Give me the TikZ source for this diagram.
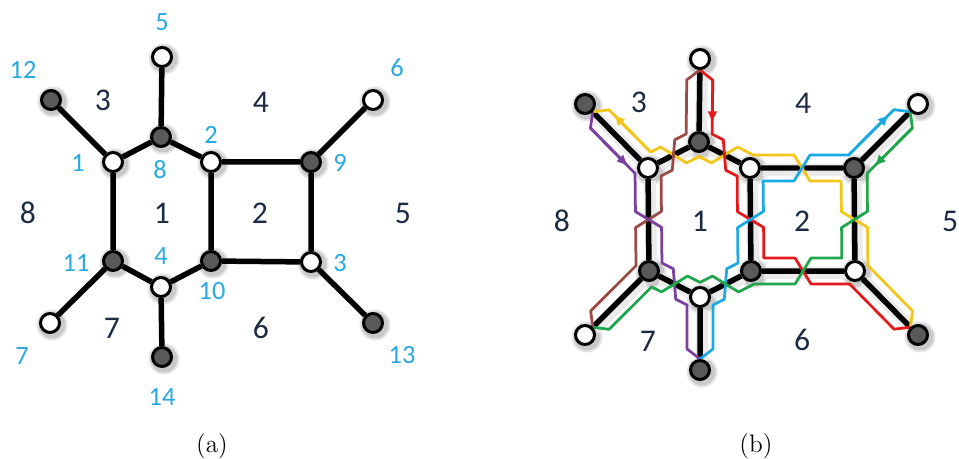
\documentclass[tikz,border=0pt]{standalone}
\usepackage{fontspec}
\newfontfamily\carl{Carlito}
\usetikzlibrary{calc,arrows.meta}
\pgfdeclarelayer{bg}
\pgfdeclarelayer{mid}
\pgfsetlayers{bg,mid,main}

\definecolor{navy}{HTML}{1C2B45}
\definecolor{lblue}{HTML}{27A9E1}
\definecolor{nodegray}{HTML}{595959}
\definecolor{cyel}{HTML}{F5C518}
\definecolor{cred}{HTML}{E3191C}
\definecolor{cbrn}{HTML}{9B4A45}
\definecolor{cpur}{HTML}{7B3FA0}
\definecolor{cblu}{HTML}{1BA9E6}
\definecolor{cgrn}{HTML}{20A64A}

\def\sdd{0.26cm}
\def\sdc{0.16cm}
\def\srl{0.42cm}
\def\srr{0.22cm}

% corner of a strand at vertex #3 between edges #2-#3 and #3-#4, side #5
\newcommand\mkcrn[5]{%
  \coordinate (#1p) at ($(#2)!\sdd!#5:(#3)$);
  \coordinate (#1q) at ($(#1p)+(#3)-(#2)$);
  \coordinate (#1r) at ($(#3)!\sdd!#5:(#4)$);
  \coordinate (#1s) at ($(#1r)+(#4)-(#3)$);
  \coordinate (#1) at (intersection of #1p--#1q and #1r--#1s);}
% crossing of edge #2->#3 at its middle, from side #4 to side #5
\newcommand\mkcrs[5]{%
  \coordinate (#1P) at ($(#2)!0.5!(#3)!-\sdc!(#3)!\sdd!#4:(#3)$);
  \coordinate (#1Q) at ($(#2)!0.5!(#3)!\sdc!(#3)!\sdd!#5:(#3)$);}
% start at leaf #2 towards #3, side #4
\newcommand\mkbeg[4]{%
  \coordinate (#1J) at ($(#2)!\srr!(#3)$);
  \coordinate (#1A) at ($(#2)!\srl!(#3)!\sdd!#4:(#3)$);}
% end from #2 into leaf #3, side #4
\newcommand\mkend[4]{%
  \coordinate (#1J) at ($(#3)!\srr!(#2)$);
  \coordinate (#1A) at ($(#3)!\srl!(#2)!\sdd!#4:(#3)$);}
\newcommand\shad[1]{%
  \fill[black,opacity=0.10] ($(#1)+(2,2)$) circle (0.31cm);
  \fill[black,opacity=0.12] ($(#1)+(2,2)$) circle (0.27cm);}

\begin{document}
\begin{tikzpicture}[x=0.02cm,y=-0.02cm,
  wn/.style={circle,draw=black,line width=0.06cm,fill=white,minimum size=0.38cm,inner sep=0pt},
  dn/.style={wn,fill=nodegray},
  gedge/.style={line width=0.11cm,black},
  halo/.style={line width=0.24cm,black!8},
  strand/.style={line width=0.055cm,line join=round},
  arr/.style={-{Latex[length=0.24cm,width=0.2cm]}},
  facelbl/.style={text=navy,font=\carl\fontsize{18}{20}\selectfont},
  lab/.style={text=lblue,font=\carl\fontsize{15}{17}\selectfont},
  captxt/.style={font=\fontsize{14.4}{17}\selectfont}]
\useasboundingbox (0,0) rectangle (959,459);

% ---------------- (a) ----------------
\node[dn] (A12) at (51,100) {};
\node[wn] (A5)  at (162,57) {};
\node[wn] (A6)  at (373,100) {};
\node[wn] (A1)  at (113,162) {};
\node[dn] (A8)  at (161,137) {};
\node[wn] (A2)  at (211,162) {};
\node[dn] (A9)  at (311,162) {};
\node[dn] (A11) at (113,261) {};
\node[wn] (A4)  at (161,287) {};
\node[dn] (A10) at (211,261) {};
\node[wn] (A3)  at (311,262) {};
\node[wn] (A7)  at (50,323) {};
\node[dn] (A14) at (162,357) {};
\node[dn] (A13) at (373,323) {};

\begin{pgfonlayer}{bg}
\foreach \v in {A1,A2,A3,A4,A5,A6,A7,A8,A9,A10,A11,A12,A13,A14} {\shad{\v}}
\end{pgfonlayer}
\begin{pgfonlayer}{mid}
\draw[gedge] (A12)--(A1) (A5)--(A8) (A6)--(A9) (A1)--(A8) (A8)--(A2) (A2)--(A9)
  (A1)--(A11) (A2)--(A10) (A9)--(A3) (A11)--(A4) (A4)--(A10) (A10)--(A3)
  (A11)--(A7) (A4)--(A14) (A3)--(A13);
\end{pgfonlayer}

\node[lab] (la5)  at (162,22) {5};
\node[lab] (la12) at (23,70) {12};
\node[lab] (la6)  at (397,68) {6};
\node[lab] (la1)  at (78,163) {1};
\node[lab] (la8)  at (160,170) {8};
\node[lab] (la2)  at (211,135) {2};
\node[lab] (la9)  at (340,163) {9};
\node[lab] (la11) at (76,263) {11};
\node[lab] (la4)  at (161,256) {4};
\node[lab] (la10) at (212,291) {10};
\node[lab] (la3)  at (340,263) {3};
\node[lab] (la7)  at (22,356) {7};
\node[lab] (la14) at (162,397) {14};
\node[lab] (la13) at (402,355) {13};

\node[facelbl] (fa3) at (103,100) {3};
\node[facelbl] (fa4) at (261,102) {4};
\node[facelbl] (fa8) at (28,213) {8};
\node[facelbl] (fa1) at (162,213) {1};
\node[facelbl] (fa2) at (260,213) {2};
\node[facelbl] (fa5) at (403,213) {5};
\node[facelbl] (fa7) at (112,328) {7};
\node[facelbl] (fa6) at (261,328) {6};

\node[captxt] (capa) at (212,446) {(a)};

% ---------------- (b) ----------------
\node[dn] (B12) at (585,104) {};
\node[wn] (B5)  at (700,59) {};
\node[wn] (B6)  at (918,104) {};
\node[wn] (B1)  at (648,168) {};
\node[dn] (B8)  at (699,142) {};
\node[wn] (B2)  at (750,168) {};
\node[dn] (B9)  at (854,168) {};
\node[dn] (B11) at (649,271) {};
\node[wn] (B4)  at (700,297) {};
\node[dn] (B10) at (751,271) {};
\node[wn] (B3)  at (855,271) {};
\node[wn] (B7)  at (585,335) {};
\node[dn] (B14) at (700,370) {};
\node[dn] (B13) at (918,335) {};

\begin{pgfonlayer}{bg}
\foreach \v in {B1,B2,B3,B4,B5,B6,B7,B8,B9,B10,B11,B12,B13,B14} {\shad{\v}}
\begin{scope}[transform canvas={shift={(0.04cm,-0.04cm)}}]
\draw[halo] (B12)--(B1) (B5)--(B8) (B6)--(B9) (B1)--(B8) (B8)--(B2) (B2)--(B9)
  (B1)--(B11) (B2)--(B10) (B9)--(B3) (B11)--(B4) (B4)--(B10) (B10)--(B3)
  (B11)--(B7) (B4)--(B14) (B3)--(B13);
\end{scope}
\end{pgfonlayer}

\begin{pgfonlayer}{mid}
\draw[gedge] (B12)--(B1) (B5)--(B8) (B6)--(B9) (B1)--(B8) (B8)--(B2) (B2)--(B9)
  (B1)--(B11) (B2)--(B10) (B9)--(B3) (B11)--(B4) (B4)--(B10) (B10)--(B3)
  (B11)--(B7) (B4)--(B14) (B3)--(B13);

% yellow: 13-3-9-2-8-1-12
\mkbeg{y0}{B13}{B3}{-90}
\mkcrn{y1}{B13}{B3}{B9}{-90}
\mkcrs{ya}{B3}{B9}{-90}{90}
\mkcrn{y2}{B3}{B9}{B2}{90}
\mkcrs{yb}{B9}{B2}{90}{-90}
\mkcrn{y3}{B9}{B2}{B8}{-90}
\mkcrs{yc}{B2}{B8}{-90}{90}
\mkcrn{y4}{B2}{B8}{B1}{90}
\mkcrs{yd}{B8}{B1}{90}{-90}
\mkcrn{y5}{B8}{B1}{B12}{-90}
\mkend{y6}{B1}{B12}{-90}
\draw[strand,cyel] (y0J)--(y0A)--(y1)--(yaP)--(yaQ)--(y2)--(ybP)--(ybQ)--(y3)--(ycP)--(ycQ)--(y4)--(ydP)--(ydQ)--(y5)--(y6A)--(y6J);
\draw[strand,cyel,arr] (y5)--($(y5)!0.9!(y6A)$);

% red: 5-8-2-10-3-13
\mkbeg{r0}{B5}{B8}{90}
\mkcrn{r1}{B5}{B8}{B2}{90}
\mkcrs{ra}{B8}{B2}{90}{-90}
\mkcrn{r2}{B8}{B2}{B10}{-90}
\mkcrs{rb}{B2}{B10}{-90}{90}
\mkcrn{r3}{B2}{B10}{B3}{90}
\mkcrs{rc}{B10}{B3}{90}{-90}
\mkcrn{r4}{B10}{B3}{B13}{-90}
\mkend{r5}{B3}{B13}{-90}
\draw[strand,cred] (r0J)--(r0A)--(r1)--(raP)--(raQ)--(r2)--(rbP)--(rbQ)--(r3)--(rcP)--(rcQ)--(r4)--(r5A)--(r5J);
\draw[strand,cred,arr] (r0A)--($(r0A)!0.8!(r1)$);

% brown: 7-11-1-8-5
\mkbeg{n0}{B7}{B11}{90}
\mkcrn{n1}{B7}{B11}{B1}{90}
\mkcrs{na}{B11}{B1}{90}{-90}
\mkcrn{n2}{B11}{B1}{B8}{-90}
\mkcrs{nb}{B1}{B8}{-90}{90}
\mkcrn{n3}{B1}{B8}{B5}{90}
\mkend{n4}{B8}{B5}{90}
\draw[strand,cbrn] (n0J)--(n0A)--(n1)--(naP)--(naQ)--(n2)--(nbP)--(nbQ)--(n3)--(n4A)--(n4J);

% purple: 12-1-11-4-14
\mkbeg{p0}{B12}{B1}{-90}
\mkcrn{p1}{B12}{B1}{B11}{-90}
\mkcrs{pa}{B1}{B11}{-90}{90}
\mkcrn{p2}{B1}{B11}{B4}{90}
\mkcrs{pb}{B11}{B4}{90}{-90}
\mkcrn{p3}{B11}{B4}{B14}{-90}
\mkend{p4}{B4}{B14}{-90}
\draw[strand,cpur] (p0J)--(p0A)--(p1)--(paP)--(paQ)--(p2)--(pbP)--(pbQ)--(p3)--(p4A)--(p4J);
\draw[strand,cpur,arr] (p0A)--($(p0A)!0.85!(p1)$);

% blue: 14-4-10-2-9-6
\mkbeg{b0}{B14}{B4}{-90}
\mkcrn{b1}{B14}{B4}{B10}{-90}
\mkcrs{ba}{B4}{B10}{-90}{90}
\mkcrn{b2}{B4}{B10}{B2}{90}
\mkcrs{bb}{B10}{B2}{90}{-90}
\mkcrn{b3}{B10}{B2}{B9}{-90}
\mkcrs{bc}{B2}{B9}{-90}{90}
\mkcrn{b4}{B2}{B9}{B6}{90}
\mkend{b5}{B9}{B6}{90}
\draw[strand,cblu] (b0J)--(b0A)--(b1)--(baP)--(baQ)--(b2)--(bbP)--(bbQ)--(b3)--(bcP)--(bcQ)--(b4)--(b5A)--(b5J);
\draw[strand,cblu,arr] (b4)--($(b4)!0.9!(b5A)$);

% green: 6-9-3-10-4-11-7
\mkbeg{g0}{B6}{B9}{90}
\mkcrn{g1}{B6}{B9}{B3}{90}
\mkcrs{ga}{B9}{B3}{90}{-90}
\mkcrn{g2}{B9}{B3}{B10}{-90}
\mkcrs{gb}{B3}{B10}{-90}{90}
\mkcrn{g3}{B3}{B10}{B4}{90}
\mkcrs{gc}{B10}{B4}{90}{-90}
\mkcrn{g4}{B10}{B4}{B11}{-90}
\mkcrs{gd}{B4}{B11}{-90}{90}
\mkcrn{g5}{B4}{B11}{B7}{90}
\mkend{g6}{B11}{B7}{90}
\draw[strand,cgrn] (g0J)--(g0A)--(g1)--(gaP)--(gaQ)--(g2)--(gbP)--(gbQ)--(g3)--(gcP)--(gcQ)--(g4)--(gdP)--(gdQ)--(g5)--(g6A)--(g6J);
\draw[strand,cgrn,arr] (g0A)--($(g0A)!0.85!(g1)$);
\end{pgfonlayer}

\node[facelbl] (fb3) at (639,102) {3};
\node[facelbl] (fb4) at (803,103) {4};
\node[facelbl] (fb8) at (562,221) {8};
\node[facelbl] (fb1) at (700,221) {1};
\node[facelbl] (fb2) at (802,221) {2};
\node[facelbl] (fb5) at (950,221) {5};
\node[facelbl] (fb7) at (648,341) {7};
\node[facelbl] (fb6) at (802,340) {6};

\node[captxt] (capb) at (756,446) {(b)};
\end{tikzpicture}
\end{document}
